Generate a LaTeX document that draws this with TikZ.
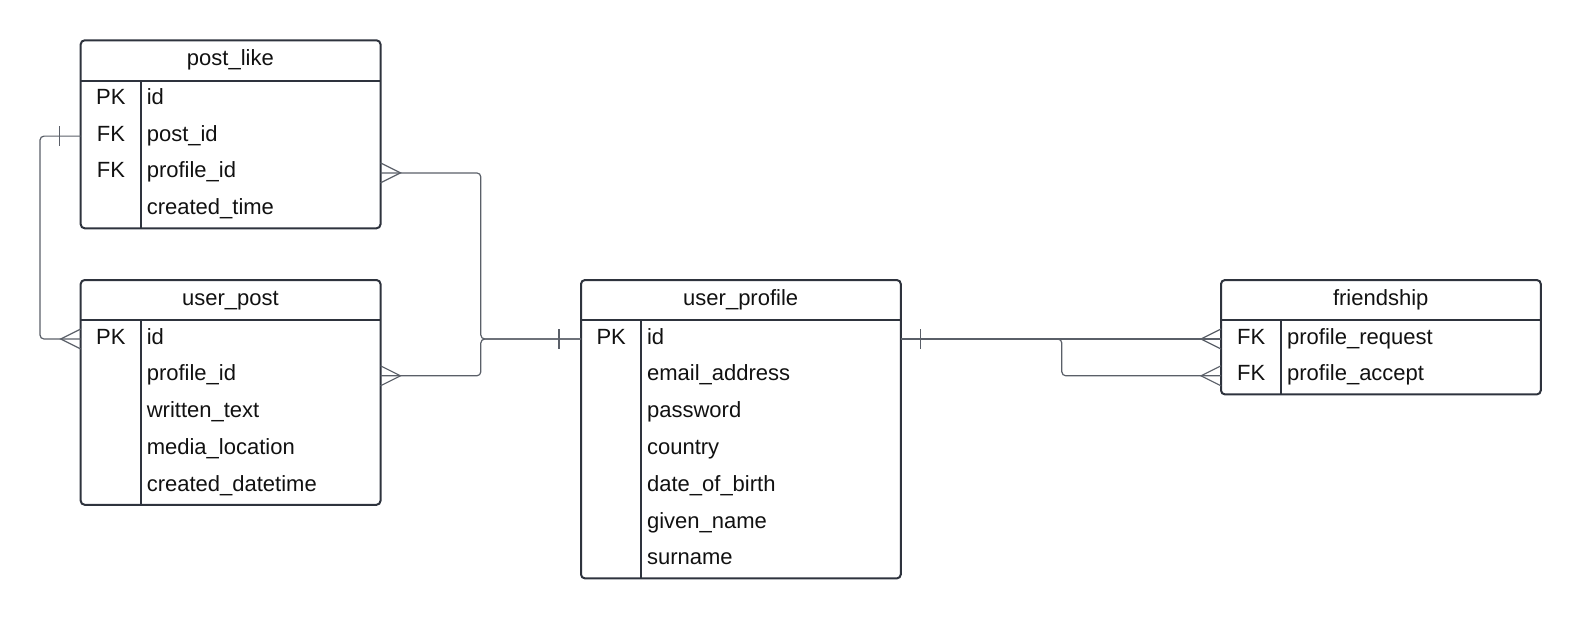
\documentclass[tikz,border=0pt]{standalone}
\usepackage{fontspec}
\setmainfont{Liberation Sans}
\usepackage{tikz}
\usetikzlibrary{calc,positioning}
\definecolor{framex}{HTML}{2E333D}
\definecolor{linex}{HTML}{5A5F68}
\definecolor{textx}{HTML}{111111}
\tikzset{
  hdr/.style={anchor=north west,minimum height=40pt,inner sep=0pt,text height=15pt,text depth=5pt},
  keyc/.style={anchor=north west,minimum width=60pt,minimum height=36.8pt,inner sep=0pt,text height=15pt,text depth=5pt},
  fldc/.style={anchor=west,minimum height=36.8pt,inner xsep=5.5pt,inner ysep=0pt,text height=15pt,text depth=5pt,align=left},
  frame/.style={draw=framex,line width=2pt,rounded corners=4pt},
  sep/.style={draw=framex,line width=2pt},
  conn/.style={draw=linex,line width=1.2pt,rounded corners=4pt},
  crow/.pic={\draw[conn,sharp corners] (0,-10)--(-20,0)--(0,10);},
  bar/.pic={\draw[conn] (0,-10)--(0,10);}
}
\begin{document}
\begin{tikzpicture}[x=1pt,y=-1pt,font=\fontsize{22}{26}\selectfont,text=textx]
\useasboundingbox (0,0) rectangle (1581,619);
% post_like
\node[hdr,minimum width=299pt] (pl) at (80.7,40.3) {post\_like};
\foreach \k/\f [count=\i] in {PK/id,FK/post\_id,FK/profile\_id,/created\_time} {
  \node[keyc] (pl-k\i) at ($(pl.south west)+(0,{(\i-1)*36.8})$) {\k};
  \node[fldc,text width=228pt] (pl-f\i) at (pl-k\i.east) {\f};
}
\draw[frame] (pl.north west) rectangle (pl-f4.south east);
\draw[sep] (pl.south west) -- (pl.south east);
\draw[sep] (pl-k1.north east) -- (pl-k4.south east);
% user_post
\node[hdr,minimum width=299pt] (up) at (80.7,280) {user\_post};
\foreach \k/\f [count=\i] in {PK/id,/profile\_id,/written\_text,/media\_location,/created\_datetime} {
  \node[keyc] (up-k\i) at ($(up.south west)+(0,{(\i-1)*36.8})$) {\k};
  \node[fldc,text width=228pt] (up-f\i) at (up-k\i.east) {\f};
}
\draw[frame] (up.north west) rectangle (up-f5.south east);
\draw[sep] (up.south west) -- (up.south east);
\draw[sep] (up-k1.north east) -- (up-k5.south east);
% user_profile
\node[hdr,minimum width=319pt] (pr) at (581,280) {user\_profile};
\foreach \k/\f [count=\i] in {PK/id,/email\_address,/password,/country,/date\_of\_birth,/given\_name,/surname} {
  \node[keyc] (pr-k\i) at ($(pr.south west)+(0,{(\i-1)*36.8})$) {\k};
  \node[fldc,text width=248pt] (pr-f\i) at (pr-k\i.east) {\f};
}
\draw[frame] (pr.north west) rectangle (pr-f7.south east);
\draw[sep] (pr.south west) -- (pr.south east);
\draw[sep] (pr-k1.north east) -- (pr-k7.south east);
% friendship
\node[hdr,minimum width=319pt] (fr) at (1221,280) {friendship};
\foreach \k/\f [count=\i] in {FK/profile\_request,FK/profile\_accept} {
  \node[keyc] (fr-k\i) at ($(fr.south west)+(0,{(\i-1)*36.8})$) {\k};
  \node[fldc,text width=248pt] (fr-f\i) at (fr-k\i.east) {\f};
}
\draw[frame] (fr.north west) rectangle (fr-f2.south east);
\draw[sep] (fr.south west) -- (fr.south east);
\draw[sep] (fr-k1.north east) -- (fr-k2.south east);
% relations
\draw[conn] (pl-k2.west) -- ++(-40.7,0) |- (up-k1.west);
\pic at ($(pl-k2.west)+(-21,0)$) {bar};
\pic at (up-k1.west) {crow};
\draw[conn] (pl-f3.east) -- ++(100.3,0) |- (pr-k1.west);
\draw[conn] (up-f2.east) -- ++(100.3,0) |- (pr-k1.west);
\pic[rotate=180] at (pl-f3.east) {crow};
\pic[rotate=180] at (up-f2.east) {crow};
\pic at ($(pr-k1.west)+(-22,0)$) {bar};
\draw[conn] (pr-f1.east) -- (fr-k1.west);
\draw[conn] (pr-f1.east) -- ++(161,0) |- (fr-k2.west);
\pic at ($(pr-f1.east)+(20,0)$) {bar};
\pic at (fr-k1.west) {crow};
\pic at (fr-k2.west) {crow};
\end{tikzpicture}
\end{document}
